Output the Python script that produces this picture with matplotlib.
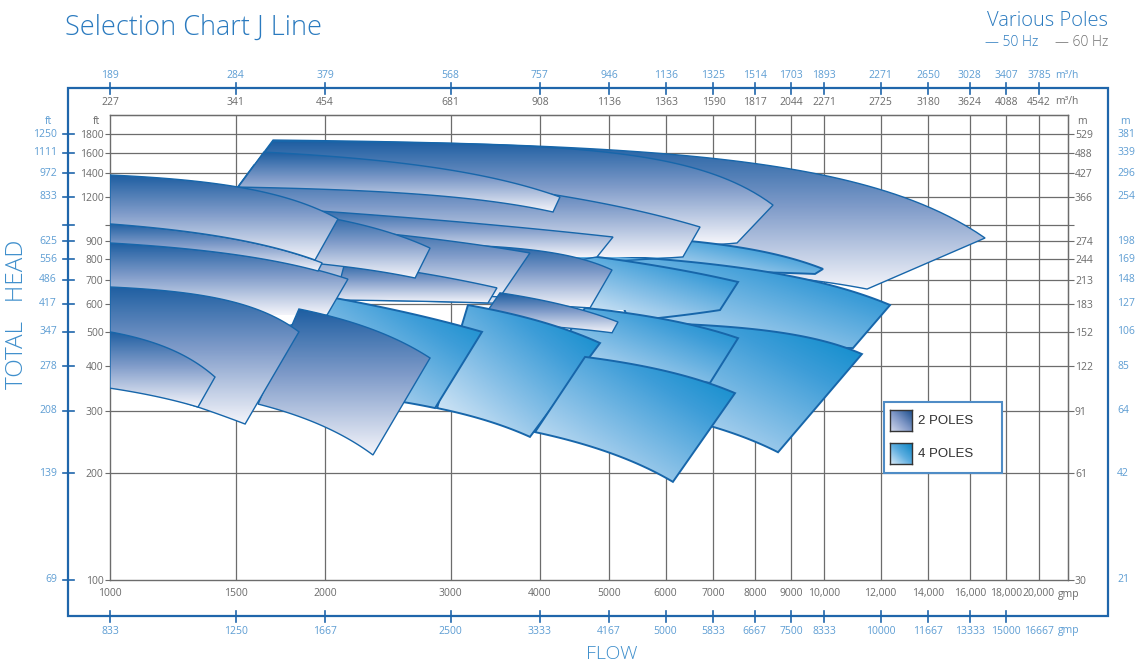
import numpy as np
import matplotlib
matplotlib.use('Agg')
import matplotlib.pyplot as plt
import matplotlib.transforms as mtransforms
from matplotlib import font_manager
from matplotlib.colors import LinearSegmentedColormap
from matplotlib.patches import Polygon, Rectangle
from matplotlib.lines import Line2D
from matplotlib.ticker import NullLocator

plt.rcParams['font.family'] = ['Open Sans', 'DejaVu Sans']

W, H = 1135, 662

# ---- axis values ----
flow_ticks = [1000, 1500, 2000, 3000, 4000, 5000, 6000, 7000, 8000, 9000,
              10000, 12000, 14000, 16000, 18000, 20000]
flow_gpm_60 = ['1000', '1500', '2000', '3000', '4000', '5000', '6000', '7000', '8000',
               '9000', '10,000', '12,000', '14,000', '16,000', '18,000', '20,000']
flow_gpm_50 = ['833', '1250', '1667', '2500', '3333', '4167', '5000', '5833', '6667',
               '7500', '8333', '10000', '11667', '13333', '15000', '16667']
flow_m3h_60 = ['227', '341', '454', '681', '908', '1136', '1363', '1590', '1817',
               '2044', '2271', '2725', '3180', '3624', '4088', '4542']
flow_m3h_50 = ['189', '284', '379', '568', '757', '946', '1136', '1325', '1514',
               '1703', '1893', '2271', '2650', '3028', '3407', '3785']

head_ticks = [100, 200, 300, 400, 500, 600, 700, 800, 900, 1000, 1200, 1400, 1600, 1800]
head_ft_60 = ['100', '200', '300', '400', '500', '600', '700', '800', '900', '',
              '1200', '1400', '1600', '1800']
head_ft_50 = ['69', '139', '208', '278', '347', '417', '486', '556', '625', '',
              '833', '972', '1111', '1250']
head_m_60 = ['30', '61', '91', '122', '152', '183', '213', '244', '274', '',
             '366', '427', '488', '529']
head_m_50 = ['21', '42', '64', '85', '106', '127', '148', '169', '198', '',
             '254', '296', '339', '381']

# ---- pump ranges: (poles, top flow, top head, bottom flow, bottom head) ----
g1 = (2, [1692, 6490, 16810], [1735, 1564, 919], [1261, 11490], [787, 660])
g2 = (2, [1692, 6490, 8484], [1720, 1457, 1138], [1274, 7554], [807, 890])
q1 = (4, [5180, 6490, 9968], [931, 901, 752], [5526, 9714], [747, 728])
q2 = (4, [4856, 6705, 12375], [823, 782, 595], [5526, 10980], [459, 450])
g3 = (2, [1591, 4041, 6705], [1476, 1231, 987], [1245, 6345], [756, 813])
g4 = (2, [1643, 2548, 4268], [1605, 1495, 1199], [1512, 2548, 4173], [1279, 1231, 1088])
q3 = (4, [5180, 6705, 11300], [533, 523, 433], [5526, 6991, 8622], [301, 270, 229])
q6 = (4, [4002, 4809, 7579], [850, 813, 691], [4268, 7150], [519, 576])
g5 = (2, [1473, 2548, 5064], [1138, 1053, 925], [1380, 4809], [678, 813])
g9 = (2, [2168, 3517, 5048], [890, 867, 747], [2168, 4702], [615, 584])
g6 = (2, [1571, 2548, 3874], [1020, 937, 834], [1571, 3517], [656, 627])
m2 = (2, [2134, 2675, 3483], [787, 737, 665], [2066, 3384], [615, 603])
g7 = (2, [1845, 2548, 2807], [1081, 931, 861], [1845, 2675], [787, 709])
q5 = (4, [4627, 6705, 7579], [584, 516, 480], [4067, 6923], [391, 359])
g8 = (2, [3517, 5146], [644, 533], [3297, 5048], [533, 497])
p3 = (4, [3172, 3938, 4856], [595, 540, 465], [2871, 3874], [305, 253])
q4 = (4, [4627, 5894, 7505], [425, 391, 336], [3938, 5016, 6143], [261, 228, 189])
p2 = (4, [1845, 2389, 3319], [648, 588, 500], [1845, 2853], [343, 305])
l3 = (2, [1000, 2154], [890, 704], [1000, 1417, 2014], [380, 459, 558])
m1 = (2, [1839, 2807], [580, 422], [1612, 2335], [313, 225])
l2 = (2, [1000, 1982], [1007, 782], [1000, 1956], [890, 742])
l1 = (2, [1000, 1512, 2086], [1383, 1279, 1040], [1000, 1937], [1007, 797])
l4 = (2, [1000, 1449, 1839], [669, 615, 500], [1000, 1328, 1546], [366, 307, 275])
l5 = (2, [1000, 1175, 1403], [500, 459, 373], [1000, 1328], [347, 307])

draw_order = [g1, g2, q1, q2, g3, g4, q3, q6, g5, g9, g6, m2, g7, q5, g8,
              p3, q4, p2, l3, m1, l2, l1, l4, l5]

# ---- styles ----
frame_blue = '#1f66ab'
title_blue = '#2a7abf'
label_blue = '#5d9dd3'
label_gray = '#6b6b6b'
grid_gray = '#6c6c6c'
edge_blue = '#1766aa'
cmap2 = LinearSegmentedColormap.from_list(
    'p2', [(0, '#1f5fa2'), (0.45, '#7f9bc9'), (1, '#f3f4fa')])
cmap4 = LinearSegmentedColormap.from_list(
    'p4', [(0, '#e8f1fa'), (0.35, '#92c5e9'), (0.7, '#3d9dd8'), (1, '#0088c9')])


def light_font():
    # a thin face for the titles, if one is installed
    for path in font_manager.findSystemFonts():
        name = path.split('/')[-1].lower()
        if name.startswith(('opensans-light', 'lato-light')) and 'italic' not in name:
            return font_manager.FontProperties(fname=path)
    return font_manager.FontProperties(family='Open Sans')


def fx(px):
    return px / W


def fy(py):
    return 1 - py / H


def pump_curve(qs, hs, npts=80):
    # H = a - b*Q^n through the end points (and the middle one if given)
    qs = np.asarray(qs, float)
    hs = np.asarray(hs, float)
    x1 = qs[0] / qs[-1]
    n = 2.0
    if len(qs) == 3:
        xm = qs[1] / qs[-1]
        r = (hs[0] - hs[1]) / (hs[0] - hs[-1])
        lo, hi = 0.02, 30.0
        for _ in range(80):
            n = 0.5 * (lo + hi)
            f = (xm ** n - x1 ** n) / (1 - x1 ** n) - r
            if f > 0:
                lo = n
            else:
                hi = n
    b = (hs[0] - hs[-1]) / (1 - x1 ** n)
    a = hs[0] + b * x1 ** n
    q = np.geomspace(qs[0], qs[-1], npts)
    return q, a - b * (q / qs[-1]) ** n


thin = light_font()

fig = plt.figure(figsize=(W / 100, H / 100), dpi=100)
ax = fig.add_axes([fx(110), fy(580), (1068 - 110) / W, (580 - 115) / H])
ax.set_xscale('log')
ax.set_yscale('log')
ax.set_xlim(1000, 21965)
ax.set_ylim(100, 2041)
ax.set_autoscale_on(False)

for q in flow_ticks[1:]:
    ax.axvline(q, color=grid_gray, lw=0.9, zorder=0.5)
for h in head_ticks[1:]:
    ax.axhline(h, color=grid_gray, lw=0.9, zorder=0.5)
for s in ax.spines.values():
    s.set_color(grid_gray)
    s.set_linewidth(1.0)

# ---- gradient filled ranges ----
N = 96
tt = np.linspace(0, 1, N)
grad2 = cmap2(np.repeat(tt[:, None], N, axis=1))
uu, vv = np.meshgrid(tt, tt)
grad4 = cmap4((uu + (1 - vv)) / 2)

z = 3
for poles, tq, th, bq, bh in draw_order:
    cq, ch = pump_curve(tq, th)
    dq, dh = pump_curve(bq, bh)
    verts = np.column_stack([np.r_[cq, dq[::-1]], np.r_[ch, dh[::-1]]])
    frac = ax.transAxes.inverted().transform(ax.transData.transform(verts))
    x0 = frac[:, 0].min()
    x1 = frac[:, 0].max()
    y1 = frac[:, 1].max()
    # the shade runs from the top curve down to the lower right corner
    y0 = frac[len(cq), 1]
    im = ax.imshow(grad2 if poles == 2 else grad4, extent=(x0, x1, y0, y1),
                   transform=ax.transAxes, aspect='auto', interpolation='bilinear',
                   origin='upper', zorder=z)
    im.set_clip_path(Polygon(verts, closed=True, transform=ax.transData))
    ax.add_patch(Polygon(verts, closed=True, facecolor='none', edgecolor=edge_blue,
                         lw=1.0 if poles == 2 else 1.4, joinstyle='miter', zorder=z + 0.1))
    z += 0.2

# ---- inner (gray) scales ----
ax.set_xticks(flow_ticks)
ax.set_xticklabels(flow_gpm_60)
ax.set_yticks(head_ticks)
ax.set_yticklabels(head_ft_60)
ax.xaxis.set_minor_locator(NullLocator())
ax.yaxis.set_minor_locator(NullLocator())
ax.tick_params(axis='x', length=0, pad=5.5, labelsize=7.5, labelcolor=label_gray)
ax.tick_params(axis='y', length=3.6, width=0.8, color=grid_gray, pad=1,
               labelsize=7.5, labelcolor=label_gray)

ident = (lambda v: v, lambda v: v)
top = ax.secondary_xaxis('top', functions=ident)
top.set_xticks(flow_ticks)
top.set_xticklabels(flow_m3h_60)
top.xaxis.set_minor_locator(NullLocator())
top.tick_params(length=0, pad=5, labelsize=7.5, labelcolor=label_gray)
top.spines['top'].set_color(grid_gray)

right = ax.secondary_yaxis('right', functions=ident)
right.set_yticks(head_ticks)
right.set_yticklabels(head_m_60)
right.yaxis.set_minor_locator(NullLocator())
right.tick_params(length=4.2, width=0.8, color=grid_gray, pad=0.8,
                  labelsize=7.5, labelcolor=label_gray)
right.spines['right'].set_color(grid_gray)

# ---- outer (blue) scales ----
tr_x = mtransforms.blended_transform_factory(ax.transData, fig.transFigure)
tr_y = mtransforms.blended_transform_factory(fig.transFigure, ax.transData)
for q, lab in zip(flow_ticks, flow_m3h_50):
    ax.text(q, fy(76), lab, transform=tr_x, ha='center', va='center',
            fontsize=7.5, color=label_blue, clip_on=False)
    ax.add_line(Line2D([q, q], [fy(82.5), fy(93.5)], transform=tr_x,
                       color=frame_blue, lw=1.2, clip_on=False))
for i, (q, lab) in enumerate(zip(flow_ticks, flow_gpm_50)):
    ax.text(q, fy(631), lab, transform=tr_x, ha='center', va='center',
            fontsize=7.5, color=label_blue, clip_on=False)
    if i < len(flow_ticks) - 1:
        ax.add_line(Line2D([q, q], [fy(610.5), fy(621.5)], transform=tr_x,
                           color=frame_blue, lw=1.2, clip_on=False))
for h, lab in zip(head_ticks, head_ft_50):
    ax.text(fx(57), h, lab, transform=tr_y, ha='right', va='center',
            fontsize=7.5, color=label_blue, clip_on=False)
    ax.add_line(Line2D([fx(63), fx(74)], [h, h], transform=tr_y,
                       color=frame_blue, lw=1.2, clip_on=False))
for h, lab in zip(head_ticks, head_m_50):
    ax.text(fx(1117), h, lab, transform=tr_y, ha='left', va='center',
            fontsize=7.5, color=label_blue, clip_on=False)

fig.add_artist(Rectangle((fx(68), fy(616)), fx(1108) - fx(68), fy(88) - fy(616),
                         transform=fig.transFigure, fill=False,
                         edgecolor=frame_blue, lw=1.6, zorder=1))

# unit labels
fig.text(fx(96), fy(121), 'ft', fontsize=7.5, color=label_gray, ha='center', va='center')
fig.text(fx(48), fy(121), 'ft', fontsize=7.5, color=label_blue, ha='center', va='center')
fig.text(fx(1082), fy(121), 'm', fontsize=7.5, color=label_gray, ha='center', va='center')
fig.text(fx(1125), fy(121), 'm', fontsize=7.5, color=label_blue, ha='center', va='center')
fig.text(fx(1055), fy(102), 'm³/h', fontsize=7.5, color=label_gray, ha='left', va='center')
fig.text(fx(1055), fy(76), 'm³/h', fontsize=7.5, color=label_blue, ha='left', va='center')
fig.text(fx(1058), fy(594), 'gmp', fontsize=7.5, color=label_gray, ha='left', va='center')
fig.text(fx(1058), fy(631), 'gmp', fontsize=7.5, color=label_blue, ha='left', va='center')

# titles
fig.text(fx(65), fy(28), 'Selection Chart J Line', fontproperties=thin, fontsize=19.5,
         color=title_blue, ha='left', va='center')
fig.text(fx(1108), fy(21), 'Various Poles', fontproperties=thin, fontsize=14.5,
         color=title_blue, ha='right', va='center')
fig.text(fx(985), fy(43), '— 50 Hz', fontproperties=thin, fontsize=10,
         color=title_blue, ha='left', va='center')
fig.text(fx(1108), fy(43), '— 60 Hz', fontproperties=thin, fontsize=10,
         color='#6f6f6f', ha='right', va='center')
fig.text(fx(17), fy(314), 'TOTAL   HEAD', fontproperties=thin, rotation=90, fontsize=17.5,
         color='#3f8fcc', ha='center', va='center')
fig.text(fx(612), fy(654), 'FLOW', fontproperties=thin, fontsize=14, color='#3f8fcc',
         ha='center', va='center')

# legend
fig.add_artist(Rectangle((fx(884), fy(473)), (1002 - 884) / W, (473 - 402) / H,
                         transform=fig.transFigure, facecolor='white',
                         edgecolor='#4f8cc6', lw=1.5, zorder=3))
sw2 = LinearSegmentedColormap.from_list('s2', ['#d3d9ec', '#7f97c6', '#1b4e8c'])
sw4 = LinearSegmentedColormap.from_list('s4', ['#dcebf7', '#5eaee0', '#0a84c4'])
for py, cm, lab in [(410, sw2, '2 POLES'), (443, sw4, '4 POLES')]:
    sax = fig.add_axes([fx(890), fy(py + 21), 22 / W, 21 / H], zorder=4)
    sax.imshow(cm((uu + (1 - vv)) / 2), aspect='auto', interpolation='bilinear')
    sax.set_xticks([])
    sax.set_yticks([])
    for s in sax.spines.values():
        s.set_color('#333333')
        s.set_linewidth(1.0)
    fig.text(fx(918), fy(py + 11), lab, fontsize=9.5, family='Liberation Sans',
             color='#303030', ha='left', va='center', zorder=5)

fig.savefig('out.png', dpi=100)
